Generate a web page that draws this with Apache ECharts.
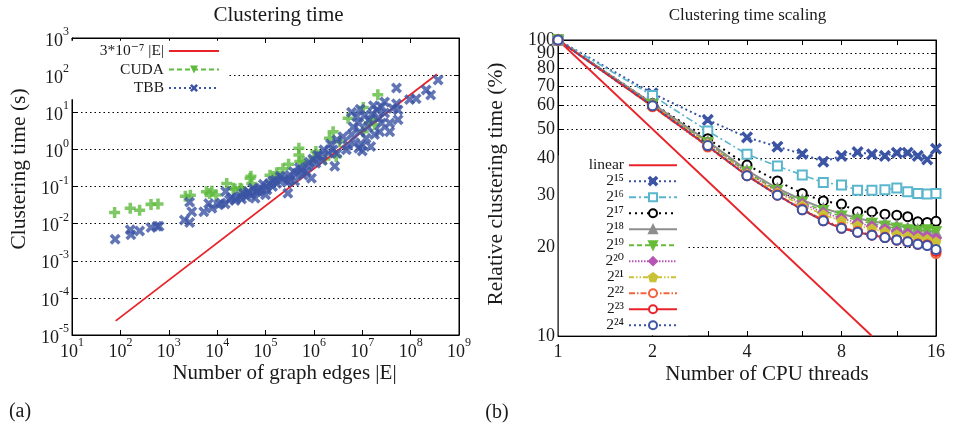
<!DOCTYPE html>
<html><head><meta charset="utf-8">
<script src="https://cdn.jsdelivr.net/npm/echarts@6/dist/echarts.min.js"></script>
<style>html,body{margin:0;padding:0;background:#fff}#c{width:953px;height:426px}</style>
</head><body><div id="c"></div>
<script>
// ---------------- data ----------------
const edgeTicks = [1e1, 1e2, 1e3, 1e4, 1e5, 1e6, 1e7, 1e8, 1e9];
const timeTicks = [1e-5, 1e-4, 1e-3, 1e-2, 1e-1, 1e0, 1e1, 1e2, 1e3];
const threadTicks = [1, 2, 4, 8, 16];
const threadTickMarks = [1, 2, 3, 4, 6, 8, 12, 16];
const pctTicks = [10, 20, 30, 40, 50, 60, 70, 80, 90, 100];

const fitName = '3*10^-7 |E|';
const fitPts = [[80, 2.4e-5], [3.5e8, 105]];
const cudaPts = [
  [76,0.020],[160,0.026],[250,0.023],[430,0.033],[600,0.034],[2200,0.055],[2800,0.058],
  [6000,0.072],[7000,0.065],[7800,0.075],[9500,0.059],[15800,0.12],[21500,0.09],[23400,0.085],
  [30000,0.09],[32000,0.085],[48000,0.167],[50000,0.19],[52000,0.12],[124000,0.20],[170000,0.235],
  [175000,0.167],[230000,0.30],[300000,0.40],[490000,1.07],[490000,0.71],[510000,0.47],[600000,0.47],
  [1.0e6,0.60],[1.1e6,0.87],[1.7e6,0.55],[2.1e6,2.0],[2.5e6,3.0],[2.9e6,0.64],[3.4e6,1.6],
  [5.1e6,6.9],[1.05e7,13.5],[1.05e7,3.0],[1.4e7,5.2],[1.7e7,6.3],[1.8e7,4.6],[2.1e7,29.6]
];
const tbbPts = [
  [78,0.0038],[160,0.0068],[165,0.005],[250,0.0063],[430,0.0079],[570,0.0085],[630,0.0085],
  [2100,0.0125],[2700,0.0107],[2700,0.038],[3000,0.021],[5300,0.021],[6700,0.035],[7800,0.026],
  [10700,0.032],[12000,0.036],[14700,0.034],[15000,0.073],[18000,0.044],[20000,0.05],[23400,0.042],
  [25000,0.048],[30000,0.055],[32000,0.046],[35000,0.066],[40000,0.054],[44000,0.066],[44000,0.073],
  [50000,0.06],[55000,0.09],[61000,0.048],[65000,0.073],[70000,0.081],[72000,0.073],[80000,0.09],
  [90000,0.115],[100000,0.06],[105000,0.10],[107000,0.081],[120000,0.12],[140000,0.14],[140000,0.10],
  [160000,0.15],[170000,0.12],[200000,0.19],[220000,0.17],[250000,0.15],[280000,0.13],[290000,0.066],
  [320000,0.20],[320000,0.15],[380000,0.25],[400000,0.14],[450000,0.23],[500000,0.32],[560000,0.28],
  [600000,0.20],[700000,0.25],[760000,0.35],[800000,0.45],[890000,0.167],[950000,0.55],[1.1e6,0.42],
  [1.2e6,0.70],[1.35e6,0.64],[1.5e6,0.50],[1.6e6,0.97],[2.0e6,0.80],[2.2e6,1.4],[2.5e6,0.97],
  [2.7e6,0.35],[3.0e6,1.8],[3.0e6,0.78],[4.0e6,2.2],[4.7e6,0.97],[5.0e6,1.3],[6.0e6,2.5],[6.0e6,10],
  [6.5e6,4.0],[7.0e6,1.5],[7.7e6,7.6],[8.5e6,5.1],[8.5e6,1.07],[8.9e6,3.0],[9.0e6,12],[1.0e7,1.3],
  [1.0e7,0.9],[1.1e7,8.0],[1.2e7,2.0],[1.3e7,4.0],[1.4e7,6.3],[1.5e7,1.2],[1.6e7,9.0],[1.7e7,15],
  [1.8e7,2.5],[2.0e7,11.5],[2.2e7,7.0],[2.3e7,3.0],[2.5e7,14],[2.5e7,5.1],[2.9e7,9.5],[2.9e7,19],
  [3.7e7,3.0],[3.7e7,5.1],[4.3e7,12.7],[5.1e7,17],[5.1e7,45],[5.5e7,11.5],[5.5e7,6.3],[9.5e7,22],
  [1.3e8,23],[2.1e8,40],[2.6e8,29],[3.7e8,74]
];

const threads = [1, 2, 3, 4, 5, 6, 7, 8, 9, 10, 11, 12, 13, 14, 15, 16];
const linearPts = [[1, 100], [10, 10]];
const scaleNames = ['2^15','2^16','2^17','2^18','2^19','2^20','2^21','2^22','2^23','2^24'];
const s15 = [100,66,53.7,46.9,43.6,41.2,38.8,40.6,41.8,41.1,40.6,41.6,41.6,40.6,39.5,42.9];
const s16 = [100,64.9,49.3,41.1,37.5,35.0,33.0,32.4,31.1,31.1,31.2,31.6,30.7,30.3,30.2,30.3];
const s17 = [100,61,46.4,37.8,33.4,30.3,28.6,27.9,26.3,26.3,25.8,25.6,25.3,24.3,24.2,24.4];
const s18 = [100,61,45.5,36.3,31.5,28.8,27.0,25.9,25.0,24.4,24.0,23.6,23.2,22.9,22.6,22.4];
const s19 = [100,60.5,45.0,35.8,31.0,28.3,26.5,25.4,24.6,24.0,23.5,23.1,22.8,22.6,22.8,22.5];
const s20 = [100,60.5,44.8,35.6,30.8,28.0,26.1,25.0,24.1,23.5,23.0,22.5,22.2,21.9,21.7,21.4];
const s21 = [100,60.3,44.6,35.3,30.5,27.6,25.7,24.5,23.6,23.0,22.5,22.0,21.7,21.4,21.2,20.8];
const s22 = [100,59.5,43.5,34.8,30.0,26.9,24.7,23.3,22.6,22.0,21.6,21.1,20.8,20.5,20.3,19.0];
const s23 = [100,59.8,43.8,34.8,29.9,26.7,24.5,23.1,22.4,21.9,21.5,21.1,20.8,20.4,20.3,19.3];
const s24 = [100,60.0,44.0,34.8,29.9,26.7,24.5,23.1,22.4,21.9,21.5,21.1,20.8,20.4,20.2,19.6];
const scaleValues = [s15, s16, s17, s18, s19, s20, s21, s22, s23, s24];

// ---------------- styling ----------------
const FONT = '"Liberation Serif", "DejaVu Serif", serif';
const INK = '#1a1a1a';
const RED = '#e8232a', GREEN = '#5fba40', BLUE = '#3b54a4';
const PLUS = 'path://M3.4,0H6.6V3.4H10V6.6H6.6V10H3.4V6.6H0V3.4H3.4Z';
const XBOLD = 'path://M2.3,0L5,2.7L7.7,0L10,2.3L7.3,5L10,7.7L7.7,10L5,7.3L2.3,10L0,7.7L2.7,5L0,2.3Z';
const XTHIN = 'path://M1.4,0L5,3.6L8.6,0L10,1.4L6.4,5L10,8.6L8.6,10L5,6.4L1.4,10L0,8.6L3.6,5L0,1.4Z';
const DTRI = 'path://M0,0L10,0L5,9Z';
const PENT = 'path://M5,0L10,3.8L8.1,10L1.9,10L0,3.8Z';
const scaleStyles = [
  {c: BLUE, t: [2, 3], w: 2, sym: XTHIN, sz: 10},
  {c: '#5ab6cc', t: [7, 3, 2, 3], w: 1.6, sym: 'emptyRect', sz: 9},
  {c: '#000000', t: [2, 4], w: 2, sym: 'emptyCircle', sz: 9},
  {c: '#8e8e8e', t: 'solid', w: 2, sym: 'triangle', sz: 10},
  {c: '#66bb3a', t: [5, 3], w: 1.6, sym: DTRI, sz: 10},
  {c: '#b655b4', t: [1.5, 1.5], w: 1.6, sym: 'diamond', sz: 10},
  {c: '#c9c236', t: [5, 2, 1.5, 2, 1.5, 2], w: 1.6, sym: PENT, sz: 9},
  {c: '#f2643c', t: [6, 2, 1.5, 2], w: 1.6, sym: 'emptyCircle', sz: 9},
  {c: RED, t: 'solid', w: 2, sym: 'emptyCircle', sz: 9},
  {c: BLUE, t: [2, 3], w: 2, sym: 'emptyCircle', sz: 9}
];

const tickRich = {
  b: {fontFamily: FONT, fontSize: 18, color: INK, padding: [6, 0, 0, 0]},
  s: {fontFamily: FONT, fontSize: 12, color: INK, padding: [0, 0, 12, 0]}
};
const powLabel = v => '{b|10}{s|' + Math.round(Math.log10(v)) + '}';
const SUP = {'0':'⁰','1':'¹','2':'²','3':'³','4':'⁴','5':'⁵','6':'⁶','7':'⁷','8':'⁸','9':'⁹','-':'⁻'};
const supName = name => name.replace(/\^(-?\d+)/, (m, e) => e.split('').map(ch => SUP[ch]).join(''));
const dotted = {color: '#000', type: [1.5, 3], width: 1};

function logAxis(grid, pos, min, max, base, ticks, labels, opts) {
  const main = pos === 'bottom' || pos === 'left';
  return {
    gridIndex: grid, type: 'log', logBase: base, min: min, max: max, position: pos,
    axisLine: {show: opts.noLine ? false : true, lineStyle: {color: '#000', width: 1}},
    axisTick: {show: !opts.noLine, inside: true, length: 5, customValues: ticks, lineStyle: {color: '#000', width: 1}},
    axisLabel: main ? Object.assign({show: true, customValues: labels, color: INK, fontFamily: FONT,
      showMinLabel: true, showMaxLabel: true, hideOverlap: false}, opts.label) : {show: false},
    splitLine: main && opts.split ? {show: true, lineStyle: dotted} : {show: false},
    minorTick: {show: false}, minorSplitLine: {show: false}
  };
}

// crowded % labels are split over two overlaid left axes (alternate ticks) so none is auto-hidden
const pctLabelsA = pctTicks.filter((v, i) => i % 2 === 0);
const pctLabelsB = pctTicks.filter((v, i) => i % 2 === 1);

const xAxes = [
  logAxis(0, 'bottom', 10, 1e9, 10, edgeTicks, edgeTicks, {label: {formatter: powLabel, rich: tickRich, margin: 2}}),
  logAxis(0, 'top', 10, 1e9, 10, edgeTicks, edgeTicks, {}),
  logAxis(1, 'bottom', 1, 16, 2, threadTickMarks, threadTicks, {label: {fontSize: 18, margin: 7}}),
  logAxis(1, 'top', 1, 16, 2, threadTickMarks, threadTicks, {})
];
const yAxes = [
  logAxis(0, 'left', 1e-5, 1e3, 10, timeTicks, timeTicks, {split: true, label: {formatter: powLabel, rich: tickRich, margin: 3}}),
  logAxis(0, 'right', 1e-5, 1e3, 10, timeTicks, timeTicks, {}),
  logAxis(1, 'left', 10, 100, 10, pctTicks, pctLabelsA, {split: true, label: {fontSize: 18, margin: 3}}),
  logAxis(1, 'right', 10, 100, 10, pctTicks, pctTicks, {}),
  logAxis(1, 'left', 10, 100, 10, pctLabelsB, pctLabelsB, {noLine: true, label: {fontSize: 18, margin: 3}})
];

const series = [
  {type: 'scatter', name: 'CUDA points', xAxisIndex: 0, yAxisIndex: 0, data: cudaPts,
   symbol: PLUS, symbolSize: 11, itemStyle: {color: GREEN}, z: 2},
  {type: 'line', name: fitName, xAxisIndex: 0, yAxisIndex: 0, data: fitPts, symbol: 'none',
   lineStyle: {color: RED, width: 1.8}, itemStyle: {color: RED}, z: 3},
  {type: 'scatter', name: 'TBB points', xAxisIndex: 0, yAxisIndex: 0, data: tbbPts,
   symbol: XBOLD, symbolSize: 11, itemStyle: {color: BLUE}, z: 4},
  {type: 'line', name: 'CUDA', xAxisIndex: 0, yAxisIndex: 0, data: [], symbol: DTRI, symbolSize: 9,
   lineStyle: {color: GREEN, type: [5, 3], width: 2}, itemStyle: {color: GREEN}},
  {type: 'line', name: 'TBB', xAxisIndex: 0, yAxisIndex: 0, data: [], symbol: XBOLD, symbolSize: 9,
   lineStyle: {color: BLUE, type: [2, 3], width: 2}, itemStyle: {color: BLUE}},
  {type: 'line', name: 'linear', xAxisIndex: 2, yAxisIndex: 2, data: linearPts, symbol: 'none',
   lineStyle: {color: RED, width: 1.8}, itemStyle: {color: RED}, z: 3}
];
scaleNames.forEach((n, k) => {
  const st = scaleStyles[k];
  series.push({
    type: 'line', name: n, xAxisIndex: 2, yAxisIndex: 2,
    data: threads.map((t, i) => [t, scaleValues[k][i]]),
    symbol: st.sym, symbolSize: st.sz, showAllSymbol: true,
    lineStyle: {color: st.c, type: st.t, width: st.w},
    itemStyle: {color: st.c, borderColor: st.c, borderWidth: 1.5}, z: 3
  });
});

const LROW = 18.5, RROW = 15.67;
const option = {
  animation: false,
  backgroundColor: '#fff',
  grid: [
    {left: 72, top: 38, width: 387, height: 297, show: true, borderColor: '#000', borderWidth: 1, backgroundColor: 'transparent'},
    {left: 558, top: 40, width: 378, height: 296, show: true, borderColor: '#000', borderWidth: 1, backgroundColor: 'transparent'}
  ],
  xAxis: xAxes,
  yAxis: yAxes,
  legend: [
    {
      data: [{name: fitName, itemStyle: {opacity: 0}}, 'CUDA', 'TBB'],
      orient: 'vertical', right: 953 - 228, top: 51 - LROW / 2 - 1, align: 'right',
      itemWidth: 50, itemHeight: 10, itemGap: 0, padding: [1, 8, 2, 30],
      backgroundColor: '#fff', z: 1, selectedMode: false,
      formatter: supName,
      textStyle: {fontFamily: FONT, fontSize: 15.5, color: INK, lineHeight: LROW}
    },
    {
      data: [{name: 'linear', itemStyle: {opacity: 0}}].concat(scaleNames),
      orient: 'vertical', right: 953 - 688, top: 165 - RROW / 2 - 2, align: 'right',
      itemWidth: 48, itemHeight: 10, itemGap: 0, padding: [2, 10, 2, 30],
      backgroundColor: '#fff', z: 1, selectedMode: false,
      formatter: supName,
      textStyle: {fontFamily: FONT, fontSize: 15.5, color: INK, lineHeight: RROW}
    }
  ],
  graphic: [
    {type: 'text', x: 278.5, y: 15, style: {text: 'Clustering time', font: '21px "Liberation Serif"', fill: INK, align: 'center', verticalAlign: 'middle'}},
    {type: 'text', x: 747.5, y: 16, style: {text: 'Clustering time scaling', font: '17px "Liberation Serif"', fill: INK, align: 'center', verticalAlign: 'middle'}},
    {type: 'text', x: 284.5, y: 373, style: {text: 'Number of graph edges |E|', font: '21px "Liberation Serif"', fill: INK, align: 'center', verticalAlign: 'middle'}},
    {type: 'text', x: 767, y: 374, style: {text: 'Number of CPU threads', font: '21px "Liberation Serif"', fill: INK, align: 'center', verticalAlign: 'middle'}},
    {type: 'text', x: 19, y: 169, rotation: Math.PI / 2, style: {text: 'Clustering time (s)', font: '21.5px "Liberation Serif"', fill: INK, align: 'center', verticalAlign: 'middle'}},
    {type: 'text', x: 496, y: 184, rotation: Math.PI / 2, style: {text: 'Relative clustering time (%)', font: '21.5px "Liberation Serif"', fill: INK, align: 'center', verticalAlign: 'middle'}},
    {type: 'text', x: 20, y: 412, style: {text: '(a)', font: '20px "Liberation Serif"', fill: INK, align: 'center', verticalAlign: 'middle'}},
    {type: 'text', x: 497, y: 413, style: {text: '(b)', font: '20px "Liberation Serif"', fill: INK, align: 'center', verticalAlign: 'middle'}}
  ],
  series: series
};
const chart = echarts.init(document.getElementById('c'), null, {renderer: 'canvas'});
chart.setOption(option);
</script>
</body></html>
